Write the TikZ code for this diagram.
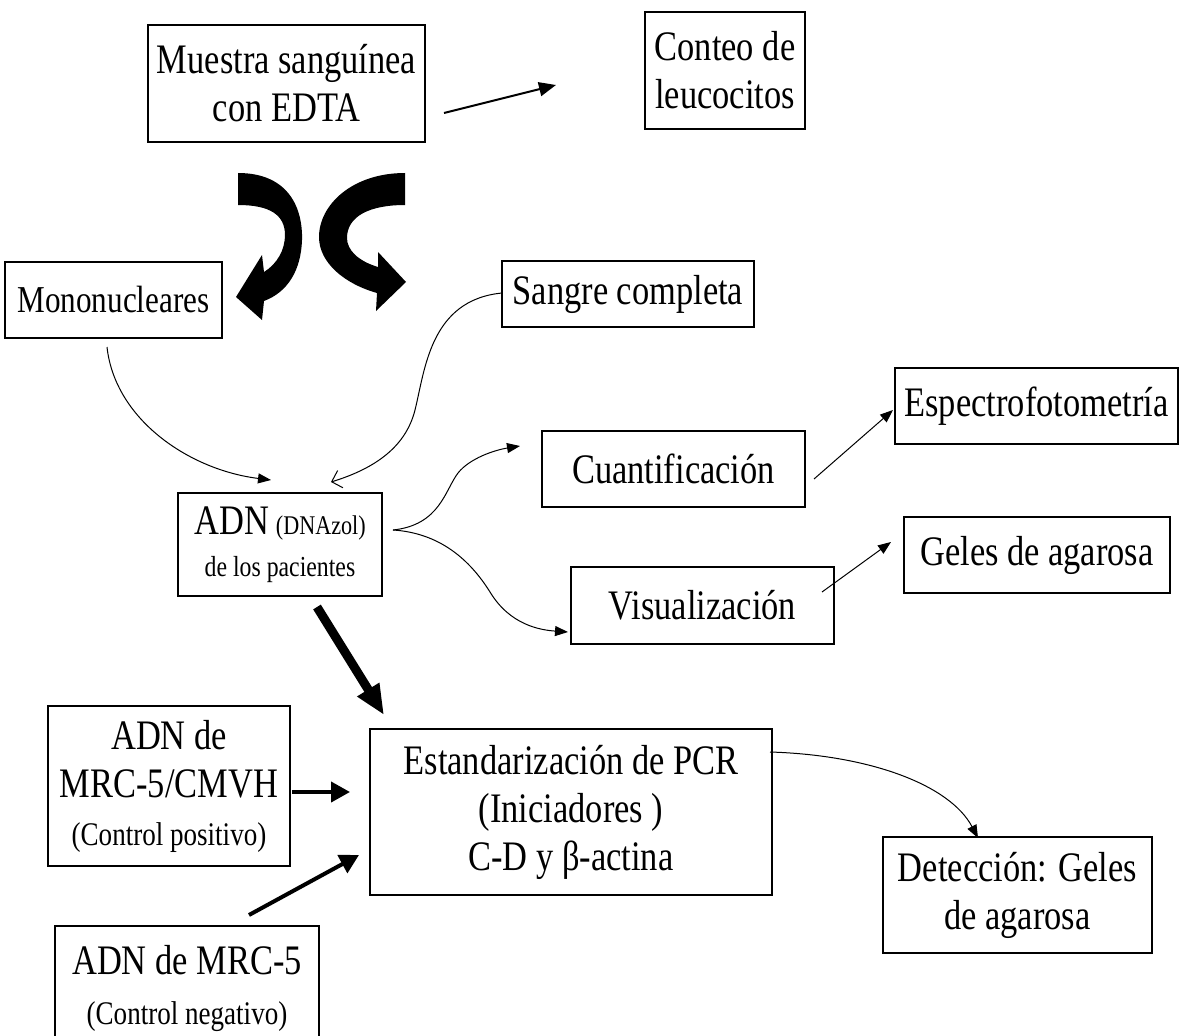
\documentclass[tikz,border=0pt]{standalone}
\usepackage{fontspec}
\setmainfont{Liberation Serif}[FakeStretch=0.82]
\usetikzlibrary{arrows.meta}
\begin{document}
\begin{tikzpicture}[x=1pt,y=-1pt,
  box/.style={draw, line width=1.3pt, inner sep=0pt, align=center, font=\fontsize{42}{48}\selectfont},
  thinarrow/.style={line width=1pt, -{Triangle[length=13pt,width=10pt]}},
  openarrow/.style={line width=1pt, -{Straight Barb[length=9pt,width=18pt,line width=1pt]}},
  medarrow/.style={line width=2pt, -{Triangle[length=17pt,width=14pt]}},
  boldarrow/.style={line width=4pt, -{Triangle[length=19pt,width=20pt]}},
  heavyarrow/.style={line width=9pt, -{Triangle[length=30pt,width=24pt]}},
  blockarrow/.style={fill=black, draw=none}]
\useasboundingbox (0,0) rectangle (1182,1035);
\fill[white] (0,0) rectangle (1182,1035);

% boxes
\node[box, minimum width=277pt, minimum height=117pt] (muestra) at (286.5,83.5) {Muestra sanguínea\\con EDTA};
\node[box, minimum width=160pt, minimum height=117pt] (conteo) at (725,70.5) {Conteo de\\leucocitos};
\node[box, minimum width=217pt, minimum height=76pt, font=\fontsize{38}{44}\selectfont] (mono) at (113.5,300) {Mononucleares};
\node[box, minimum width=252pt, minimum height=66pt] (sangre) at (628,294) {Sangre completa};
\node[box, minimum width=204pt, minimum height=103pt] (adn) at (280,544.5) {ADN\,{\fontsize{27}{30}\selectfont(DNAzol)}\\[-6pt]{\fontsize{29}{34}\selectfont de los pacientes}};
\node[box, minimum width=263pt, minimum height=76pt] (cuant) at (673.5,469) {Cuantificación};
\node[box, minimum width=283pt, minimum height=76pt] (espectro) at (1036.5,406) {Espectrofotometría};
\node[box, minimum width=263pt, minimum height=77pt] (visual) at (702.5,605.5) {Visualización};
\node[box, minimum width=266pt, minimum height=76pt] (geles) at (1037,555) {Geles de agarosa};
\node[box, minimum width=242pt, minimum height=160pt] (pos) at (169,786) {ADN de\\MRC-5/CMVH\\{\fontsize{33}{38}\selectfont (Control positivo)}};
\node[box, minimum width=402pt, minimum height=166pt] (estand) at (571,812) {Estandarización de PCR\\(Iniciadores )\\C-D y β-actina};
\node[box, minimum width=264pt, minimum height=124pt] (neg) at (187,988) {ADN de MRC-5\\[2pt]{\fontsize{33}{38}\selectfont (Control negativo)}};
\node[box, minimum width=269pt, minimum height=116pt] (detec) at (1017.5,895) {Detección: Geles\\de agarosa};

% free ends of connectors
\coordinate (m1) at (444,113);
\coordinate (c1) at (556,85);
\coordinate (mo1) at (107,347);
\coordinate (a1) at (271,480);
\coordinate (s1) at (502,293);
\coordinate (a2) at (331,482);
\coordinate (a3) at (393,530);
\coordinate (cu1) at (520,446);
\coordinate (v1) at (568,632);
\coordinate (cu2) at (814,479);
\coordinate (e1) at (893,410);
\coordinate (v2) at (822,592);
\coordinate (g1) at (891,542);
\coordinate (a4) at (317,607);
\coordinate (es1) at (384,715);
\coordinate (p1) at (292,792);
\coordinate (es2) at (350,792);
\coordinate (n1) at (249,915);
\coordinate (es3) at (359,855);
\coordinate (es4) at (770,752);
\coordinate (d1) at (978,838);

% connectors
\draw[medarrow] (m1) -- (c1);
\draw[thinarrow] (mo1) .. controls (115,420) and (190,470) .. (a1);
\draw[openarrow] (s1) .. controls (430,300) and (425,370) .. (415,410) .. controls (405,450) and (370,470) .. (a2);
\draw[thinarrow] (a3) .. controls (440,525) and (445,490) .. (458,473) .. controls (470,458) and (495,450) .. (cu1);
\draw[thinarrow] (a3) .. controls (440,533) and (470,560) .. (490,592) .. controls (510,625) and (540,630) .. (v1);
\draw[thinarrow] (cu2) -- (e1);
\draw[thinarrow] (v2) -- (g1);
\draw[heavyarrow] (a4) -- (es1);
\draw[boldarrow] (p1) -- (es2);
\draw[boldarrow] (n1) -- (es3);
\draw[thinarrow] (es4) .. controls (870,755) and (950,785) .. (d1);

% curved block arrows
\fill[blockarrow] (238,173) .. controls (290,173) and (303,210) .. (302,240)
  .. controls (301,270) and (288,292) .. (264,301)
  -- (262,320) -- (236,297) -- (262,255) -- (264,272)
  .. controls (277,264) and (285,250) .. (285,235)
  .. controls (285,215) and (270,205) .. (238,205) -- cycle;
\fill[blockarrow] (405,173) .. controls (352,173) and (319,205) .. (319,237)
  .. controls (319,263) and (345,284) .. (377,293)
  -- (376,311) -- (406,282) -- (378,252) -- (378,267)
  .. controls (358,261) and (347,250) .. (347,238)
  .. controls (347,216) and (370,205) .. (405,205) -- cycle;
\end{tikzpicture}
\end{document}
